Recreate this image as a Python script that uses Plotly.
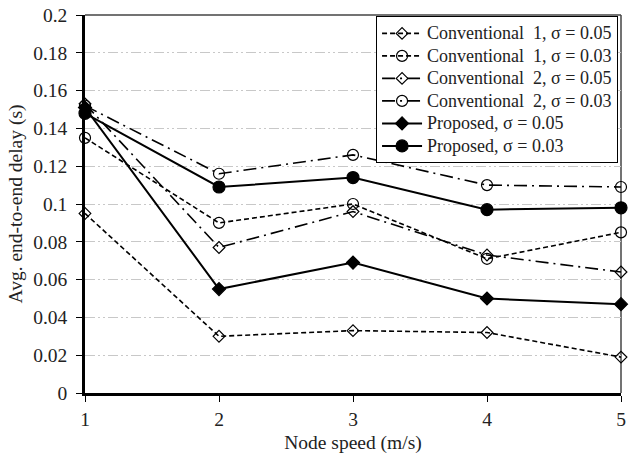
import plotly.graph_objects as go

speeds = [1, 2, 3, 4, 5]
conv1_005 = [0.095, 0.030, 0.033, 0.032, 0.019]
conv1_003 = [0.135, 0.090, 0.100, 0.071, 0.085]
conv2_005 = [0.153, 0.077, 0.096, 0.073, 0.064]
conv2_003 = [0.152, 0.116, 0.126, 0.110, 0.109]
prop_005 = [0.151, 0.055, 0.069, 0.050, 0.047]
prop_003 = [0.148, 0.109, 0.114, 0.097, 0.098]
names = ["Conventional  1, σ = 0.05", "Conventional  1, σ = 0.03",
         "Conventional  2, σ = 0.05", "Conventional  2, σ = 0.03",
         "Proposed, σ = 0.05", "Proposed, σ = 0.03"]
y_ticks = [0, 0.02, 0.04, 0.06, 0.08, 0.1, 0.12, 0.14, 0.16, 0.18, 0.2]
y_labels = ["0", "0.02", "0.04", "0.06", "0.08", "0.1", "0.12",
            "0.14", "0.16", "0.18", "0.2"]
x_labels = ["1", "2", "3", "4", "5"]

series = [conv1_005, conv1_003, conv2_005, conv2_003, prop_005, prop_003]
dashes = ["5px,3px", "5px,3px", "13px,5px,2px,5px", "13px,5px,2px,5px", "solid", "solid"]
symbols = ["diamond-open", "circle-open", "diamond-open", "circle-open", "diamond", "circle"]
sizes = [9, 11, 9, 11, 10, 12]
widths = [1.6, 1.6, 1.6, 1.6, 2, 2]

font = "Liberation Serif"
fig = go.Figure()
for s, n, d, sym, sz, w in zip(series, names, dashes, symbols, sizes, widths):
    fig.add_trace(go.Scatter(
        x=speeds, y=s, name='<span style="font-size:18px">' + n + '</span>',
        mode="lines+markers",
        line=dict(color="black", width=w, dash=d),
        marker=dict(symbol=sym, size=sz, color="black",
                    line=dict(color="black", width=1.2)),
        cliponaxis=False,
    ))

axis_font = dict(family=font, size=19.5, color="#222")
fig.update_layout(
    width=631, height=461,
    margin=dict(l=85, r=5, t=11, b=68),
    paper_bgcolor="white", plot_bgcolor="white",
    font=dict(family=font, size=20, color="#222"),
    showlegend=True,
    legend=dict(x=0.9945, xanchor="right", y=0.997, yanchor="top",
                bordercolor="black", borderwidth=1, bgcolor="white",
                font=dict(family=font, size=15, color="#222"),
                tracegroupgap=0, itemwidth=40),
    xaxis=dict(range=[1, 5], tickvals=speeds, ticktext=x_labels,
               showgrid=False,
               showline=True, linecolor="black", linewidth=2.5,
               ticks="outside", ticklen=6, tickcolor="black",
               tickfont=axis_font, ticklabelstandoff=1,
               mirror=False, zeroline=False,
               title=dict(text="Node speed (m/s)", font=axis_font, standoff=7)),
    yaxis=dict(range=[0, 0.2], tickvals=y_ticks, ticktext=y_labels,
               showgrid=True, gridcolor="#c8c8c8", gridwidth=1.2,
               griddash="10px,3px,2px,3px,2px,3px",
               showline=True, linecolor="black", linewidth=2.5,
               ticks="outside", ticklen=6, tickcolor="black",
               tickfont=axis_font, ticklabelstandoff=5,
               zeroline=False,
               title=dict(text="Avg. end-to-end delay (s)", font=axis_font, standoff=6)),
)
# top and right frame
fig.add_shape(type="line", xref="paper", yref="paper", x0=0, x1=1, y0=1, y1=1,
              line=dict(color="#444", width=1.5), layer="below")
fig.add_shape(type="line", xref="paper", yref="paper", x0=1, x1=1, y0=0, y1=1,
              line=dict(color="#444", width=1.5), layer="below")

fig.write_html("out.html")
